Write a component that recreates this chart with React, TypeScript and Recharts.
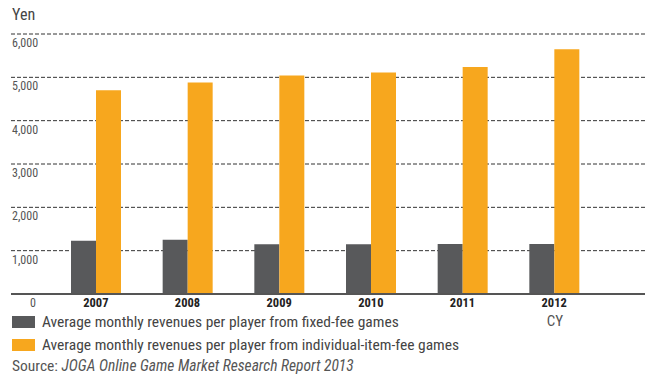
import React from 'react';
import { BarChart, Bar, XAxis, YAxis, CartesianGrid } from 'recharts';

const years = ['2007', '2008', '2009', '2010', '2011', '2012'];
const fixedFee = [1230, 1250, 1150, 1150, 1155, 1155];
const itemFee = [4700, 4880, 5040, 5110, 5240, 5650];
const yTicks = [0, 1000, 2000, 3000, 4000, 5000, 6000];

const DARK = '#58595b';
const ORANGE = '#f7a71e';
const FONT = '"Liberation Sans Narrow", "Roboto Condensed", "Liberation Sans", Arial, sans-serif';

const data = years.map((y, i) => ({ year: y, fixed: fixedFee[i], item: itemFee[i] }));

const YTick = (props: any) => {
  const { y, payload } = props;
  if (payload.value === 0) {
    return (
      <text x={33} y={y + 13} textAnchor="middle" fontSize={12} fill="#555" fontFamily={FONT}>0</text>
    );
  }
  return (
    <text x={12} y={y + 13} textAnchor="start" fontSize={12} fill="#555" fontFamily={FONT}>
      {payload.value.toLocaleString('en-US')}
    </text>
  );
};

const XTick = (props: any) => {
  const { x, y, payload } = props;
  return (
    <text x={x} y={y + 5} textAnchor="middle" fontSize={12.5} fontWeight="bold" fill="#222" fontFamily={FONT}>
      {payload.value}
    </text>
  );
};

const App = () => {
  return (
    <div style={{ position: 'absolute', left: 0, top: 0, width: 645, height: 374, background: '#fff', fontFamily: FONT }}>
      <BarChart
        width={645}
        height={374}
        data={data}
        margin={{ top: 34, right: 0, bottom: 50, left: 0 }}
        barGap={0}
        barSize={25}
      >
        <CartesianGrid vertical={false} stroke="#333" strokeDasharray="4 2" />
        <XAxis
          dataKey="year"
          height={30}
          padding={{ left: 39, right: 45 }}
          axisLine={{ stroke: '#555', strokeWidth: 2 }}
          tickLine={false}
          tick={<XTick />}
          interval={0}
        />
        <YAxis
          width={11}
          domain={[0, 6000]}
          ticks={yTicks}
          axisLine={false}
          tickLine={false}
          tick={<YTick />}
          interval={0}
        />
        <Bar dataKey="fixed" fill={DARK} isAnimationActive={false} />
        <Bar dataKey="item" fill={ORANGE} isAnimationActive={false} />
      </BarChart>

      <div style={{ position: 'absolute', left: 12, top: 5, fontSize: 16, color: '#444' }}>Yen</div>
      <div style={{ position: 'absolute', left: 535, width: 40, textAlign: 'center', top: 312, fontSize: 15, color: '#555' }}>CY</div>

      <div style={{ position: 'absolute', left: 12, top: 314, height: 16, display: 'flex', alignItems: 'center' }}>
        <div style={{ width: 23, height: 12, background: DARK }} />
        <span style={{ marginLeft: 7, fontSize: 15.5, color: '#444', whiteSpace: 'nowrap' }}>Average monthly revenues per player from fixed-fee games</span>
      </div>
      <div style={{ position: 'absolute', left: 12, top: 337, height: 16, display: 'flex', alignItems: 'center' }}>
        <div style={{ width: 23, height: 12, background: ORANGE }} />
        <span style={{ marginLeft: 7, fontSize: 15.5, color: '#444', whiteSpace: 'nowrap' }}>Average monthly revenues per player from individual-item-fee games</span>
      </div>
      <div style={{ position: 'absolute', left: 12, top: 357, fontSize: 15.5, color: '#555', whiteSpace: 'nowrap' }}>
        Source: <i>JOGA Online Game Market Research Report 2013</i>
      </div>
    </div>
  );
};

export default App;
